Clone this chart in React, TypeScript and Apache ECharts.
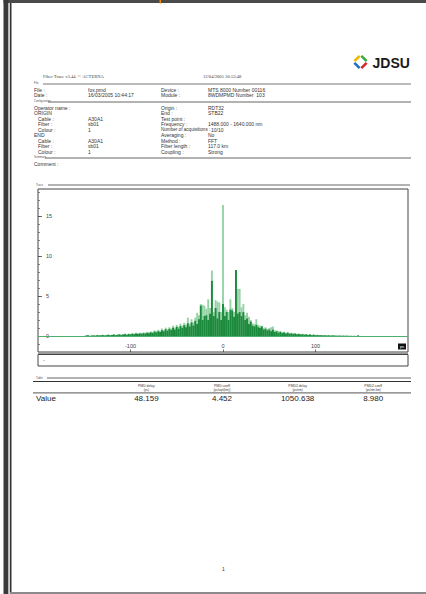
import React, { useEffect, useRef } from "react";
import * as echarts from "echarts";

// ---------- data ----------
const traceStart = -150;
const traceStep = 2;
// dark green trace (per 2 ps bin, from -150 to 150)
const darkValues = [
  0.0, 0.05, 0.1, 0.0, 0.05, 0.08, 0.04, 0.1, 0.06, 0.08,
  0.12, 0.06, 0.1, 0.15, 0.08, 0.12, 0.18, 0.1, 0.15, 0.2,
  0.12, 0.18, 0.22, 0.15, 0.25, 0.2, 0.28, 0.22, 0.3, 0.25,
  0.32, 0.28, 0.35, 0.3, 0.4, 0.35, 0.45, 0.38, 0.55, 0.45,
  0.6, 0.5, 0.72, 0.58, 0.85, 0.65, 0.9, 0.75, 1.05, 0.8,
  1.15, 0.9, 1.25, 1.0, 1.35, 1.1, 1.6, 1.2, 1.7, 1.3,
  1.9, 1.5, 2.1, 3.8, 2.0, 2.5, 2.6, 2.0, 2.8, 6.9,
  2.5, 3.5, 2.2, 3.0, 2.0, 4.0, 2.5, 3.0, 2.0, 3.3,
  3.2, 2.4, 8.25, 2.8, 3.0, 2.5, 3.0, 2.0, 2.2, 1.5,
  1.8, 1.3, 1.2, 1.4, 1.1, 1.0, 1.2, 0.8, 0.9, 0.7,
  0.8, 0.6, 0.8, 0.5, 0.6, 0.4, 0.5, 0.35, 0.45, 0.3,
  0.4, 0.28, 0.32, 0.25, 0.3, 0.2, 0.25, 0.18, 0.22, 0.15,
  0.2, 0.12, 0.18, 0.1, 0.15, 0.1, 0.12, 0.08, 0.1, 0.06,
  0.08, 0.05, 0.08, 0.04, 0.06, 0.05, 0.04, 0.03, 0.05, 0.02,
  0.04, 0.02, 0.03, 0.01, 0.02, 0.0, 0.02, 0.0, 0.08, 0.0,
  0.0,
];
// light green trace (maximum over acquisitions)
const lightValues = [
  0.02, 0.08, 0.12, 0.05, 0.08, 0.1, 0.08, 0.14, 0.1, 0.12,
  0.16, 0.1, 0.14, 0.2, 0.12, 0.16, 0.24, 0.14, 0.2, 0.26,
  0.18, 0.24, 0.3, 0.2, 0.32, 0.26, 0.36, 0.3, 0.4, 0.34,
  0.42, 0.38, 0.46, 0.4, 0.52, 0.46, 0.58, 0.5, 0.7, 0.6,
  0.78, 0.66, 0.95, 0.75, 1.05, 0.85, 1.1, 0.95, 1.3, 1.05,
  1.4, 1.15, 1.55, 1.3, 1.65, 1.45, 2.3, 1.55, 2.1, 1.7,
  2.3, 2.9, 2.6, 4.0, 3.9, 3.8, 3.4, 4.6, 3.5, 8.2,
  3.0, 4.5, 4.3, 4.2, 3.0, 16.4, 3.6, 3.3, 3.0, 4.6,
  3.5, 3.0, 8.25, 5.9, 5.9, 3.6, 4.0, 2.6, 2.9, 2.4,
  2.0, 1.6, 1.5, 2.1, 1.4, 1.3, 1.3, 1.0, 1.1, 0.9,
  1.0, 1.1, 1.2, 0.7, 0.7, 0.6, 0.65, 0.5, 0.55, 0.42,
  0.5, 0.38, 0.42, 0.34, 0.38, 0.28, 0.32, 0.25, 0.28, 0.22,
  0.26, 0.18, 0.22, 0.15, 0.2, 0.14, 0.16, 0.12, 0.14, 0.1,
  0.12, 0.08, 0.12, 0.08, 0.12, 0.08, 0.06, 0.05, 0.07, 0.04,
  0.06, 0.04, 0.05, 0.03, 0.04, 0.02, 0.03, 0.02, 0.1, 0.02,
  0.0,
];
const xMin = -200;
const xMax = 200;
const xInterval = 100;
const yMin = -2;
const yMax = 18.4;
const yMajorTicks = [0, 5, 10, 15];
const yMinorTicks = [-1, 0, 1, 2, 3, 4, 5, 6, 7, 8, 9, 10, 11, 12, 13, 14, 15, 16, 17, 18];
const xUnit = "ps";

const headerLeft = "Fiber Trace v3.44  \u00A9 ACTERNA";
const headerDate = "12/04/2005 10:53:48";
const fileRows = [
  ["File :", "fox.pmd", "Device :", "MTS 8000 Number 00116"],
  ["Date :", "16/03/2005 10:44:17", "Module :", "8WDMPMD Number  103"],
];
const configLeft = [
  ["Operator name :", ""],
  ["ORIGIN", ""],
  ["  Cable :", "A30A1"],
  ["  Fiber :", "sb01"],
  ["  Colour :", "1"],
  ["END", ""],
  ["  Cable :", "A30A1"],
  ["  Fiber :", "sb01"],
  ["  Colour :", "1"],
];
const configRight = [
  ["Origin :", "RDT32"],
  ["End :", "STB22"],
  ["Test point :", ""],
  ["Frequency :", "1488.000 - 1640.000 nm"],
  ["Number of acquisitions :", "10/10"],
  ["Averaging :", "No"],
  ["Method :", "FFT"],
  ["Fiber length :", "117.0 km"],
  ["Coupling :", "Strong"],
];
const tableHeaders = ["PMD delay", "PMD coeff", "PMD2 delay", "PMD2 coeff"];
const tableUnits = ["(ps)", "(ps/sqrt(km))", "(ps/nm)", "(ps/nm.km)"];
const tableRowLabel = "Value";
const tableValues = ["48.159", "4.452", "1050.638", "8.980"];
const pageNumber = "1";

// ---------- helpers ----------
const SANS = "'Liberation Sans', Arial, sans-serif";
const SERIF = "'Liberation Serif', 'Times New Roman', serif";

function txt(text: string, x: number, y: number, o: any = {}) {
  const align = o.align || "left";
  return {
    type: "text",
    x,
    y,
    silent: true,
    z: 10,
    style: {
      text,
      fontSize: o.size || 5,
      fontFamily: o.family || SANS,
      fontWeight: o.weight || "normal",
      fill: o.color || "#333",
      textAlign: align,
      align,
      textVerticalAlign: "middle",
      verticalAlign: "middle",
    },
  };
}
function hline(x1: number, x2: number, y: number, color = "#555", w = 0.8) {
  return { type: "line", silent: true, z: 10, shape: { x1, y1: y, x2, y2: y }, style: { stroke: color, lineWidth: w } };
}
function rect(x: number, y: number, w: number, h: number, style: any) {
  return { type: "rect", silent: true, z: 10, shape: { x, y, width: w, height: h }, style };
}

export default function App() {
  const ref = useRef<HTMLDivElement>(null);
  useEffect(() => {
    if (!ref.current) return;
    const chart = echarts.init(ref.current, undefined, { renderer: "svg" });

    const darkPairs = darkValues.map((v, i) => [traceStart + i * traceStep, v]);
    const lightPairs = lightValues.map((v, i) => [traceStart + i * traceStep, v]);

    const g: any[] = [];
    // page frame
    g.push(rect(3.5, 0, 422.5, 3, { fill: "#4a4a4a" }));
    g.push(rect(3.5, 0, 5, 594, { fill: "#3a3a3a" }));
    g.push(rect(8.5, 3, 1.5, 591, { fill: "#d0d0d0" }));
    g.push({ type: "line", silent: true, z: 10, shape: { x1: 10.8, y1: 3, x2: 10.8, y2: 594 }, style: { stroke: "#000", lineWidth: 1.2 } });
    g.push(rect(159.5, 0, 1.5, 3.5, { fill: "#f08a00" }));
    g.push(rect(10, 592, 416, 2, { fill: "#8a8a8a" }));

    // logo
    const cx = 360.5, cy = 62, r = 7, gap = 1.2;
    const pts = [[cx, cy - r], [cx - r, cy], [cx, cy + r], [cx + r, cy]];
    const cols = ["#f3b400", "#1f6fc5", "#d9262c", "#3aa845"];
    for (let i = 0; i < 4; i++) {
      const a = pts[i], b = pts[(i + 1) % 4];
      const dx = b[0] - a[0], dy = b[1] - a[1];
      const len = Math.hypot(dx, dy);
      const ux = dx / len, uy = dy / len;
      g.push({
        type: "polyline", silent: true, z: 10,
        shape: { points: [[a[0] + ux * gap, a[1] + uy * gap], [b[0] - ux * gap, b[1] - uy * gap]] },
        style: { stroke: cols[i], lineWidth: 2.6, fill: "none" },
      });
    }
    g.push(txt("JDSU", 372.5, 62.5, { size: 14, weight: "bold", color: "#1a1a1a" }));

    // header
    g.push(txt(headerLeft, 43, 76.5, { size: 4.6, family: SERIF, color: "#444" }));
    g.push(txt(headerDate, 203, 76.5, { size: 4.6, family: SERIF, color: "#444" }));

    // File section
    g.push(txt("File", 34, 83, { size: 2.8, color: "#555" }));
    g.push(hline(43, 411, 84, "#666", 0.9));
    fileRows.forEach((row, i) => {
      const y = 89.5 + i * 5.5;
      g.push(txt(row[0], 34, y));
      g.push(txt(row[1], 88, y));
      g.push(txt(row[2], 161, y));
      g.push(txt(row[3], 208, y));
    });

    // Configuration section
    g.push(txt("Configuration", 34, 101, { size: 2.8, color: "#555" }));
    g.push(hline(48, 411, 102, "#555", 0.9));
    configLeft.forEach((row, i) => {
      const y = 107.5 + i * 5.5;
      const indented = row[0].startsWith("  ");
      g.push(txt(row[0].trim(), indented ? 38 : 34, y));
      if (row[1]) g.push(txt(row[1], 88, y));
    });
    configRight.forEach((row, i) => {
      const y = 107.5 + i * 5.5;
      const long = row[0].length > 15;
      g.push(txt(row[0], 161, y, long ? { size: 4.6 } : {}));
      if (row[1]) g.push(txt(row[1], long ? 211 : 208, y));
    });

    // Summary section
    g.push(txt("Summary", 34, 157, { size: 2.8, color: "#555" }));
    g.push(hline(45, 411, 158, "#555", 0.9));
    g.push(txt("Comment :", 34, 163.5));

    // Trace section
    g.push(txt("Trace", 36, 184.5, { size: 2.8, color: "#555" }));
    g.push(hline(48, 410, 185, "#555", 0.9));
    g.push(rect(38, 352, 370, 2, { fill: "#9a9a9a" }));
    g.push(rect(38, 354.5, 370, 11.5, { fill: "none", stroke: "#444", lineWidth: 1 }));
    g.push(txt("-", 43, 359.5, { size: 5 }));
    g.push(rect(398, 343.5, 8, 6, { fill: "#111" }));
    g.push(txt(xUnit, 402, 346.6, { size: 4, color: "#fff", align: "center" }));

    // Table section (5 equal columns between x=33 and x=411)
    g.push(txt("Table", 36, 378, { size: 2.8, color: "#555" }));
    g.push(hline(47, 411, 378, "#555", 0.9));
    g.push(hline(33, 411, 381.5, "#333", 1));
    const colW = (411 - 33) / 5;
    tableHeaders.forEach((h, i) => {
      const c = 33 + colW * (i + 1.5);
      g.push(txt(h, c, 385.5, { size: 3.4, align: "center" }));
      g.push(txt(tableUnits[i], c, 389.8, { size: 3, align: "center" }));
      g.push(txt(tableValues[i], c, 398.5, { size: 8, align: "center", color: "#222" }));
    });
    g.push(hline(33, 411, 392.8, "#777", 1.3));
    g.push(txt(tableRowLabel, 36, 398.5, { size: 8, color: "#222" }));

    g.push(txt(pageNumber, 223.5, 569, { size: 5, color: "#333", align: "center" }));

    const axisFont = { fontSize: 5.5, color: "#444", fontFamily: SANS };

    chart.setOption({
      animation: false,
      backgroundColor: "#ffffff",
      grid: {
        left: 38, top: 189, width: 370, height: 163,
        show: true, borderColor: "#444", borderWidth: 1, backgroundColor: "transparent",
      },
      xAxis: {
        type: "value", min: xMin, max: xMax, interval: xInterval,
        axisLine: { show: false, onZero: false },
        axisTick: { show: true, inside: true, length: 2.5, lineStyle: { color: "#444", width: 0.8 } },
        axisLabel: {
          inside: true, margin: 3.5, ...axisFont,
          showMinLabel: false, showMaxLabel: false,
          formatter: (v: number) => (v === xMin || v === xMax ? "" : String(v)),
        },
        splitLine: { show: false },
      },
      yAxis: [
        {
          type: "value", min: yMin, max: yMax, position: "left",
          axisLine: { show: false, onZero: false },
          axisTick: { show: true, inside: true, length: 2, customValues: yMinorTicks, lineStyle: { color: "#555", width: 0.7 } },
          axisLabel: { show: false },
          splitLine: { show: false },
        },
        {
          type: "value", min: yMin, max: yMax, position: "left", offset: 0,
          axisLine: { show: false, onZero: false },
          axisTick: { show: true, inside: true, length: 4, customValues: yMajorTicks, lineStyle: { color: "#444", width: 0.8 } },
          axisLabel: { show: true, inside: true, margin: 8, customValues: yMajorTicks, ...axisFont },
          splitLine: { show: false },
        },
      ],
      series: [
        {
          type: "bar", name: "max", data: lightPairs, barWidth: 1.9, barGap: "-100%",
          itemStyle: { color: "#96d2a6" }, silent: true, z: 2,
        },
        {
          type: "bar", name: "trace", data: darkPairs, barWidth: 1.9, barGap: "-100%",
          itemStyle: { color: "#1c8a3c" }, silent: true, z: 3,
          markLine: {
            silent: true, symbol: ["none", "none"], label: { show: false },
            lineStyle: { color: "#4fb06d", width: 1, type: "solid" },
            data: [{ yAxis: 0 }],
          },
        },
      ],
      graphic: { elements: g },
    });
    return () => chart.dispose();
  }, []);
  return (
    <div
      ref={ref}
      style={{ position: "fixed", left: 0, top: 0, width: 426, height: 594, background: "#fff" }}
    />
  );
}
